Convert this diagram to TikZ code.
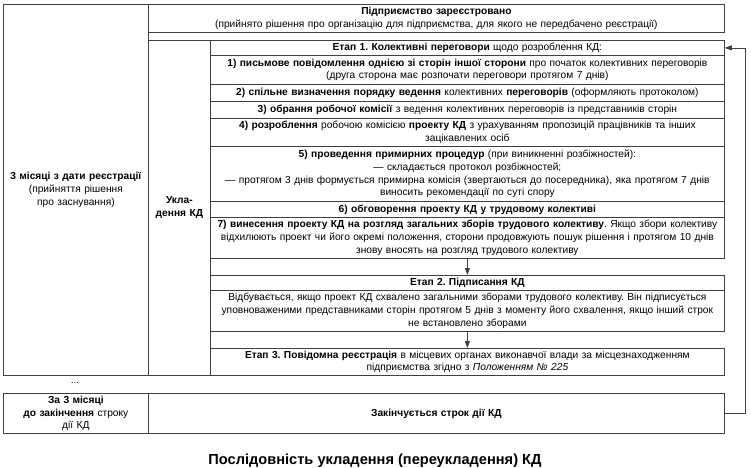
\documentclass[tikz,border=0pt]{standalone}
\usepackage{fontspec}
\setmainfont{Liberation Sans}
\usepackage{tikz}
\usetikzlibrary{arrows.meta}
\frenchspacing

\begin{document}
\begin{tikzpicture}[x=1pt, y=-1pt, line width=0.75pt,
  cellbox/.style={draw=black!75, anchor=north west, inner sep=0pt,
                  align=center, font=\fontsize{10.2}{12.8}\selectfont},
  rowbox/.style={cellbox, minimum width=514pt, text width=514pt},
  arr/.style={draw=black!75, -{Triangle[length=7pt, width=5pt]}}]

  \useasboundingbox (0,0) rectangle (751,467);

  %% Outer columns
  \node[cellbox, minimum width=145pt, text width=145pt, minimum height=371pt] (term) at (3,4)
    {\textbf{3 місяці з дати реєстрації}\\(прийняття рішення\\про заснування)};
  \node[cellbox, minimum width=576pt, text width=576pt, minimum height=28pt] (reg) at (148,4)
    {\textbf{Підприємство зареєстровано}\\(прийнято рішення про організацію для підприємства, для якого не передбачено реєстрації)};
  \node[cellbox, minimum width=62pt, text width=62pt, minimum height=335pt] (ukl) at (148,40)
    {\textbf{Укла-}\\\textbf{дення КД}};

  %% Stage 1
  \node[rowbox, minimum height=15pt] (st1) at (210,40)
    {\textbf{Етап 1. Колективні переговори} щодо розроблення КД:};
  \node[rowbox, minimum height=29pt] (s1) at (210,55)
    {\textbf{1) письмове повідомлення однією зі сторін іншої сторони} про початок колективних переговорів\\(друга сторона має розпочати переговори протягом 7 днів)};
  \node[rowbox, minimum height=17pt] (s2) at (210,84)
    {\textbf{2) спільне визначення порядку ведення} колективних \textbf{переговорів} (оформляють протоколом)};
  \node[rowbox, minimum height=17pt] (s3) at (210,101)
    {\textbf{3) обрання робочої комісії} з ведення колективних переговорів із представників сторін};
  \node[rowbox, minimum height=28pt] (s4) at (210,118)
    {\textbf{4) розроблення} робочою комісією \textbf{проекту КД} з урахуванням пропозицій працівників та інших\\зацікавлених осіб};
  \node[rowbox, minimum height=55pt] (s5) at (210,146)
    {\textbf{5) проведення примирних процедур} (при виникненні розбіжностей):\\— складається протокол розбіжностей;\\— протягом 3 днів формується примирна комісія (звертаються до посередника), яка протягом 7 днів\\виносить рекомендації по суті спору};
  \node[rowbox, minimum height=16pt] (s6) at (210,201)
    {\textbf{6) обговорення проекту КД у трудовому колективі}};
  \node[rowbox, minimum height=41pt] (s7) at (210,217)
    {\textbf{7) винесення проекту КД на розгляд загальних зборів трудового колективу}. Якщо збори колективу\\відхилюють проект чи його окремі положення, сторони продовжують пошук рішення і протягом 10 днів\\знову вносять на розгляд трудового колективу};

  %% Stage 2
  \node[rowbox, minimum height=15pt] (st2) at (210,275)
    {\textbf{Етап 2. Підписання КД}};
  \node[rowbox, minimum height=41pt] (st2t) at (210,290)
    {Відбувається, якщо проект КД схвалено загальними зборами трудового колективу. Він підписується\\уповноваженими представниками сторін протягом 5 днів з моменту його схвалення, якщо інший строк\\не встановлено зборами};

  %% Stage 3
  \node[rowbox, minimum height=27pt] (st3) at (210,348)
    {\textbf{Етап 3. Повідомна реєстрація} в місцевих органах виконавчої влади за місцезнаходженням\\підприємства згідно з \textit{Положенням № 225}};

  %% End of term
  \node[font=\fontsize{10.2}{12.8}\selectfont] (dots) at (75,383) {...};
  \node[cellbox, minimum width=145pt, text width=145pt, minimum height=40pt] (left) at (3,393)
    {\textbf{За 3 місяці}\\\textbf{до закінчення} строку\\дії КД};
  \node[cellbox, minimum width=576pt, text width=576pt, minimum height=40pt] (fin) at (148,393)
    {\textbf{Закінчується строк дії КД}};

  %% Arrows
  \draw[arr] (s7) -- (st2);
  \draw[arr] (st2t) -- (st3);
  \draw[arr] (fin.east) -- ++(21,0) |- (st1.east);

  %% Title
  \node[font=\bfseries\fontsize{14.6}{17}\selectfont] (title) at (375,461)
    {Послідовність укладення (переукладення) КД};

\end{tikzpicture}
\end{document}
